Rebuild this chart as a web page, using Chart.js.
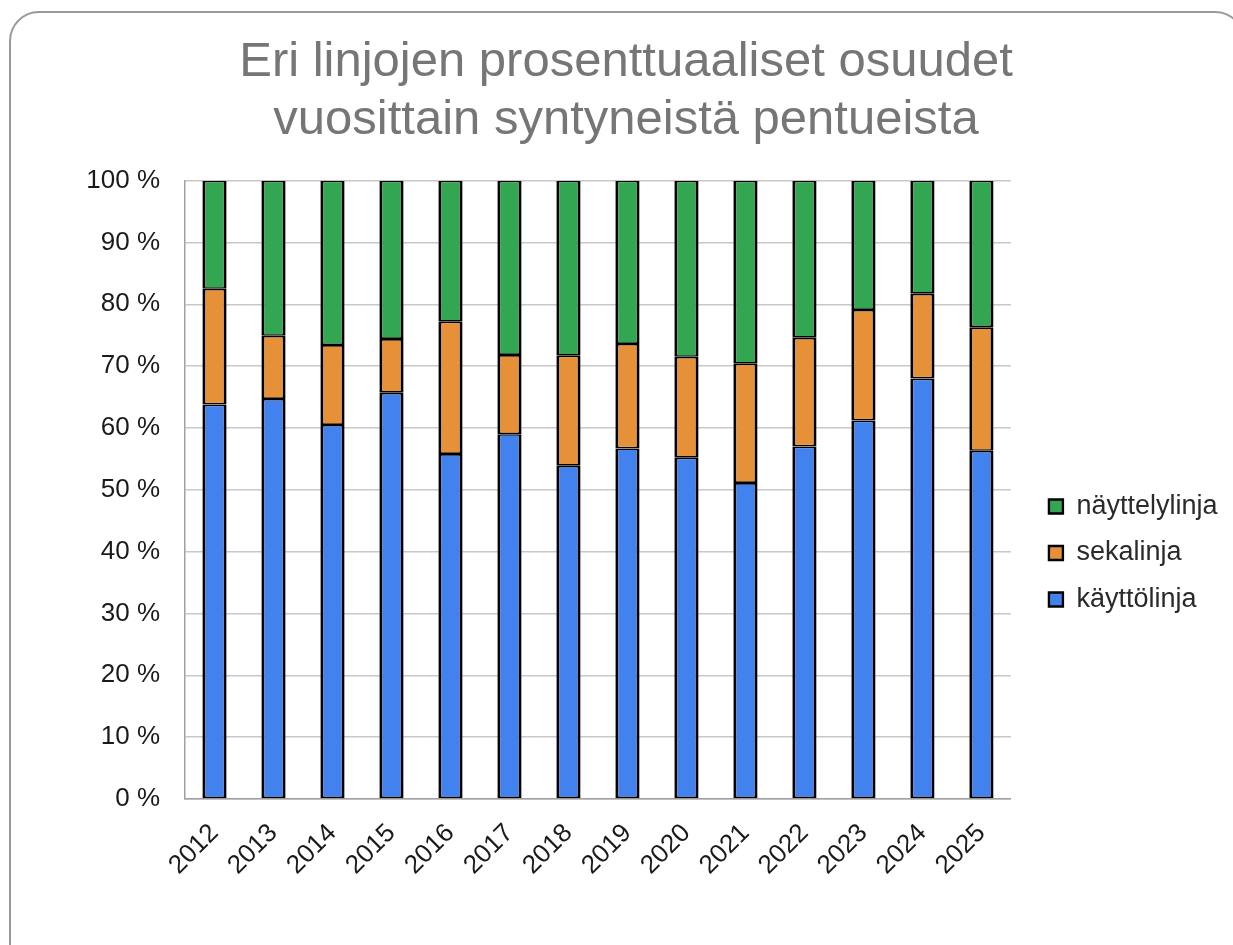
<!DOCTYPE html>
<html>
<head>
<meta charset="utf-8">
<script src="https://cdn.jsdelivr.net/npm/chart.js@4.4.1/dist/chart.umd.min.js"></script>
<style>
  html, body { margin: 0; padding: 0; background: #fff; width: 1233px; height: 945px; overflow: hidden; }
  #frame { position: absolute; left: 9px; top: 11px; width: 1236px; height: 1000px; border: 2px solid #9a9a9a; border-radius: 30px; box-sizing: border-box; }
  #c { position: absolute; left: 0; top: 0; }
</style>
</head>
<body>
<div id="frame"></div>
<canvas id="c" width="1233" height="945"></canvas>
<script>
const titleLines = ['Eri linjojen prosenttuaaliset osuudet', 'vuosittain syntyneistä pentueista'];
const years = ['2012','2013','2014','2015','2016','2017','2018','2019','2020','2021','2022','2023','2024','2025'];
const kayttolinja = [63.8, 64.7, 60.5, 65.7, 55.8, 59.0, 53.9, 56.7, 55.2, 51.1, 57.0, 61.2, 68.0, 56.3];
const sekalinja   = [18.7, 10.2, 12.9,  8.7, 21.4, 12.8, 17.8, 16.9, 16.3, 19.3, 17.6, 17.9, 13.7, 20.0];
const nayttelylinja = [17.5, 25.1, 26.6, 25.6, 22.8, 28.2, 28.3, 26.4, 28.5, 29.6, 25.4, 20.9, 18.3, 23.7];
const seriesNames = ['käyttölinja', 'sekalinja', 'näyttelylinja'];
const seriesColors = ['#4282ee', '#e69138', '#33a652'];

const FONT = "'Liberation Sans', Arial, sans-serif";

// place the legend block a little right of the plot area, around the 47 % level
const legendPlace = {
  id: 'legendPlace',
  beforeDraw(chart) {
    const lg = chart.legend;
    if (!lg || !lg.columnSizes) return;
    const area = chart.chartArea;
    const pad = lg.options.labels.padding;
    const colH = lg.columnSizes[0].height;
    const w = lg.right - lg.left;
    const targetLeft = area.right + 38 - pad;
    lg.left = targetLeft; lg.right = targetLeft + w;
    const targetStart = chart.scales.y.getPixelForValue(47.3) - lg.options.labels.font.size / 2;
    lg.top = targetStart - pad;
    lg.bottom = lg.top + pad + colH;
  }
};

const ds = [kayttolinja, sekalinja, nayttelylinja].map((arr, i) => ({
  label: seriesNames[i],
  data: arr,
  backgroundColor: seriesColors[i],
  borderColor: '#000000',
  borderWidth: { top: 1.7, bottom: 1.7, left: 3, right: 3 },
  borderSkipped: false,
  categoryPercentage: 1.0,
  barPercentage: 0.41
}));

new Chart(document.getElementById('c'), {
  type: 'bar',
  data: { labels: years, datasets: ds },
  plugins: [legendPlace],
  options: {
    responsive: false,
    animation: false,
    layout: { padding: { left: 43, right: 24, top: 0, bottom: 0 } },
    plugins: {
      title: {
        display: true,
        text: titleLines,
        color: '#767676',
        font: { family: FONT, size: 49, weight: 'normal', lineHeight: 1.18 },
        padding: { top: 34, bottom: 31 }
      },
      legend: {
        position: 'right',
        reverse: true,
        labels: {
          font: { family: FONT, size: 27 },
          color: '#2a2a2a',
          boxWidth: 14,
          boxHeight: 14,
          padding: 19.5
        }
      },
      tooltip: { enabled: false }
    },
    scales: {
      x: {
        stacked: true,
        grid: { display: false, drawTicks: false },
        border: { color: '#a0a0a0', width: 1.5 },
        ticks: { font: { family: FONT, size: 26 }, color: '#1a1a1a', minRotation: 45, maxRotation: 45, padding: 19 },
        afterFit(scale) { scale.height = 146; }
      },
      y: {
        stacked: true,
        min: 0, max: 100,
        grid: { color: '#c8c8c8', lineWidth: 1.5, drawTicks: false },
        border: { color: '#a0a0a0', width: 1.5 },
        ticks: { stepSize: 10, font: { family: FONT, size: 26 }, color: '#1a1a1a', padding: 25,
                 callback: v => v + ' %' },
        afterFit(scale) { scale.width = 142; }
      }
    }
  }
});
</script>
</body>
</html>
